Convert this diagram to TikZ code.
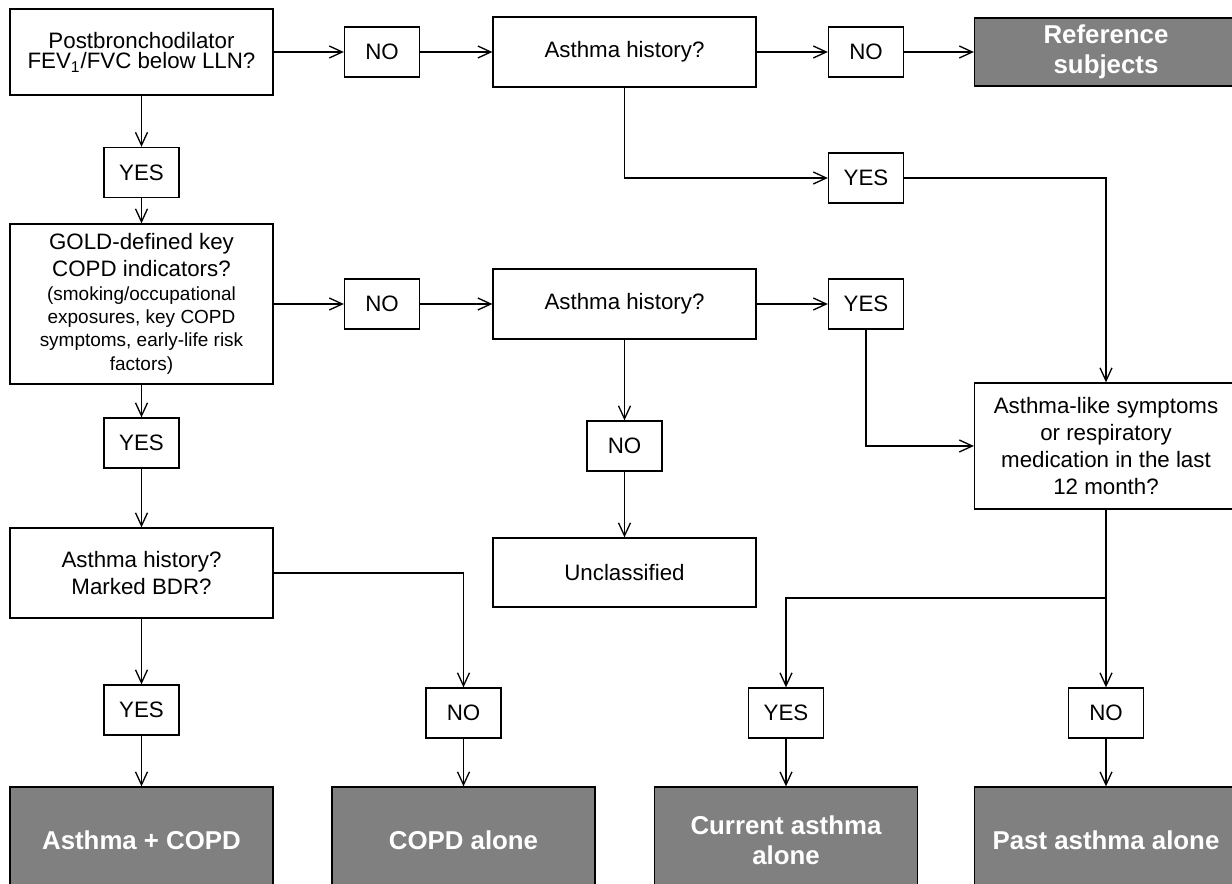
\documentclass[tikz,border=0pt]{standalone}
\usepackage{fontspec}
\setmainfont{Liberation Sans}
\usetikzlibrary{arrows.meta,positioning,calc}
\newcommand{\notefont}{\fontsize{10.8}{13}\selectfont}

\begin{document}
\begin{tikzpicture}[x=0.02cm,y=-0.02cm,line width=0.75pt,
    >={Straight Barb[length=2.6mm,width=2.4mm]},
    every node/.style={font=\fontsize{12.7}{15.3}\selectfont,align=center,inner sep=0pt},
    question/.style={draw,fill=white,minimum width=5.26cm},
    answer/.style={draw,fill=white,minimum width=1.5cm,minimum height=1cm},
    outcome/.style={draw,fill=gray,text=white,minimum width=5.26cm,minimum height=2.12cm,
        font=\fontsize{14.7}{17}\selectfont\bfseries}]
    \useasboundingbox (0,0) rectangle (1232,884);

    % Spirometry and first asthma question
    \node[question,minimum height=1.72cm] (lln) at (141.5,52) {Postbronchodilator\\[-3.6pt]FEV\textsubscript{1}/FVC below LLN?};
    \node[answer] (no1) at (382,52) {NO};
    \node[question,minimum height=1.4cm] (hist1) at (624.5,52) {Asthma history?};
    \node[answer] (no2) at (866,52) {NO};
    \node[outcome,minimum height=1.36cm] (ref) at (1106,52) {Reference\\subjects};
    \node[answer] (yes1) at (141.5,172.5) {YES};
    \node[answer] (yes2) at (866,178) {YES};

    % COPD indicators
    \node[question,minimum height=3.2cm] (gold) at (141.5,304) {GOLD-defined key\\COPD indicators?\\[-2pt]
        {\notefont(smoking/occupational}\\[-2pt]{\notefont exposures, key COPD}\\[-2pt]
        {\notefont symptoms, early-life risk}\\[-2pt]{\notefont factors)}};
    \node[answer] (no3) at (382,304) {NO};
    \node[question,minimum height=1.4cm] (hist2) at (624.5,304) {Asthma history?};
    \node[answer] (yes3) at (866,304) {YES};
    \node[answer] (yes5) at (141.5,443) {YES};
    \node[answer] (no5) at (624.5,446) {NO};
    \node[question,minimum height=2.52cm] (sympt) at (1106,446) {Asthma-like symptoms\\or respiratory\\medication in the last\\12 month?};
    \node[question,minimum height=1.8cm] (bdr) at (141.5,573) {Asthma history?\\Marked BDR?};
    \node[question,minimum height=1.38cm] (uncl) at (624.5,572.5) {Unclassified};

    % Final answers and groups
    \node[answer] (yes6) at (141.5,710) {YES};
    \node[answer] (no6) at (463.5,713) {NO};
    \node[answer] (yes4) at (786,713) {YES};
    \node[answer] (no4) at (1106,713) {NO};
    \node[outcome] (both) at (141.5,840) {Asthma + COPD};
    \node[outcome] (copd) at (463.5,840) {COPD alone};
    \node[outcome] (curr) at (786,840) {Current asthma\\alone};
    \node[outcome] (past) at (1106,840) {Past asthma alone};

    % Connectors
    \draw[->] (lln) -- (no1);
    \draw[->] (no1) -- (hist1);
    \draw[->] (hist1) -- (no2);
    \draw[->] (no2) -- (ref);
    \draw[->] (lln) -- (yes1);
    \draw[->] (yes1) -- (gold);
    \draw[->] (hist1) |- (yes2);
    \draw[->] (yes2) -| (sympt);
    \draw[->] (gold) -- (no3);
    \draw[->] (no3) -- (hist2);
    \draw[->] (hist2) -- (yes3);
    \draw[->] (yes3) |- (sympt);
    \draw[->] (hist2) -- (no5);
    \draw[->] (no5) -- (uncl);
    \draw[->] (gold) -- (yes5);
    \draw[->] (yes5) -- (bdr);
    \draw[->] (bdr) -- (yes6);
    \draw[->] (yes6) -- (both);
    \draw[->] (bdr) -| (no6);
    \draw[->] (no6) -- (copd);
    \coordinate (split) at (1106,598);
    \draw (sympt) -- (split);
    \draw[->] (split) -| (yes4);
    \draw[->] (split) -- (no4);
    \draw[->] (yes4) -- (curr);
    \draw[->] (no4) -- (past);
\end{tikzpicture}
\end{document}
